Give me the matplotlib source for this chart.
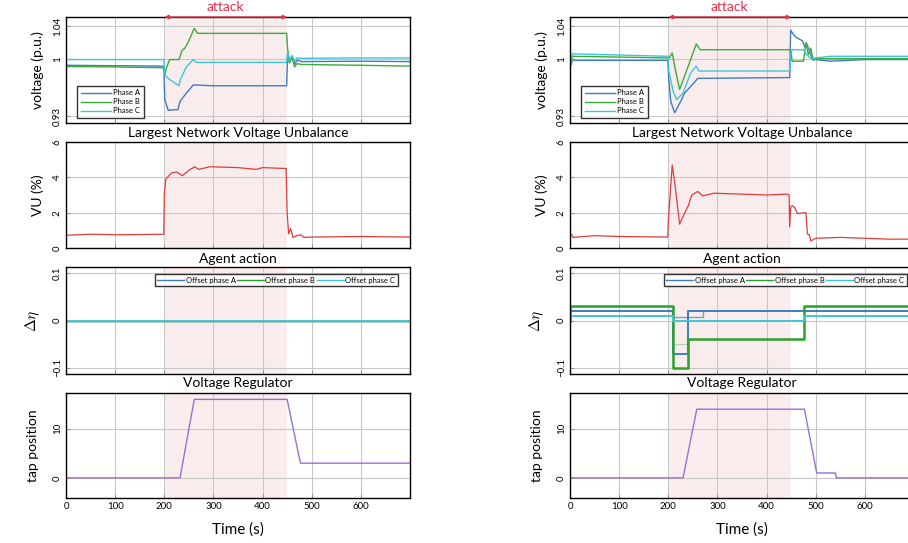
import matplotlib
matplotlib.use("Agg")
import matplotlib.pyplot as plt

plt.rcParams['font.family'] = ['Lato', 'DejaVu Sans']
plt.rcParams['mathtext.fontset'] = 'cm'

# ---------------- data: left case ----------------
vA_t_L = [0, 100, 199, 201, 208, 228, 232, 245, 259, 300, 449, 451, 455, 460, 465, 470, 480, 600, 700]
vA_L = [0.992, 0.9915, 0.991, 0.950, 0.937, 0.938, 0.948, 0.958, 0.968, 0.967, 0.967, 1.005, 0.995, 1.003, 0.993, 0.998, 0.9965, 0.997, 0.9965]
vB_t_L = [0, 100, 199, 201, 205, 211, 230, 236, 242, 250, 261, 268, 449, 451, 455, 460, 465, 470, 480, 600, 700]
vB_L = [0.9905, 0.990, 0.989, 0.980, 0.990, 0.999, 0.999, 1.010, 1.013, 1.022, 1.037, 1.031, 1.031, 1.012, 0.995, 1.002, 0.990, 0.994, 0.993, 0.992, 0.991]
vC_t_L = [0, 100, 199, 201, 210, 230, 233, 245, 259, 265, 449, 451, 455, 460, 465, 470, 480, 600, 700]
vC_L = [0.999, 0.999, 0.999, 0.980, 0.975, 0.967, 0.975, 0.990, 0.999, 0.9955, 0.9955, 1.008, 0.998, 1.004, 0.997, 1.001, 1.0005, 1.001, 1.001]

vu_t_L = [0, 50, 100, 150, 199, 200, 203, 215, 225, 237, 250, 262, 270, 293, 350, 387, 400, 448, 450, 453, 457, 462, 470, 477, 485, 500, 600, 700]
vu_L = [0.72, 0.78, 0.75, 0.76, 0.78, 3.0, 3.9, 4.25, 4.3, 4.1, 4.4, 4.6, 4.45, 4.6, 4.55, 4.45, 4.55, 4.5, 2.0, 0.8, 1.1, 0.6, 0.7, 0.75, 0.6, 0.62, 0.65, 0.62]

act_t_L = [0, 700]
actA_L = [0.0, 0.0]
actB_L = [0.0, 0.0]
actC_L = [0.0, 0.0]

tap_t_L = [0, 232, 261, 450, 477, 700]
tap_L = [0, 0, 16, 16, 3, 3]

# ---------------- data: right case ----------------
vA_t_R = [0, 2, 5, 10, 199, 201, 205, 213, 227, 233, 253, 260, 447, 449, 452, 460, 473, 478, 482, 493, 500, 530, 600, 700]
vA_R = [0.996, 0.992, 0.999, 0.998, 0.998, 0.975, 0.948, 0.934, 0.950, 0.958, 0.971, 0.976, 0.977, 1.035, 1.032, 1.026, 1.022, 1.014, 1.018, 1.0, 0.999, 0.997, 0.999, 0.999]
vB_t_R = [0, 2, 5, 199, 201, 208, 215, 223, 240, 257, 265, 447, 449, 452, 475, 478, 480, 485, 490, 495, 500, 550, 700]
vB_R = [1.001, 0.994, 1.003, 1.001, 1.0, 1.007, 0.985, 0.9625, 0.990, 1.018, 1.011, 1.011, 1.011, 0.997, 0.997, 1.01, 1.02, 1.005, 1.013, 0.998, 1.0, 1.0, 1.0]
vC_t_R = [0, 2, 5, 199, 201, 210, 217, 230, 245, 257, 262, 447, 449, 452, 475, 480, 490, 500, 530, 700]
vC_R = [1.003, 0.998, 1.006, 1.003, 0.985, 0.960, 0.950, 0.958, 0.982, 0.991, 0.985, 0.985, 1.005, 1.011, 1.011, 1.006, 1.0, 1.001, 1.003, 1.003]

vu_t_R = [0, 3, 6, 50, 100, 199, 200, 208, 214, 223, 232, 240, 248, 260, 270, 293, 350, 400, 440, 446, 447, 449, 452, 457, 463, 480, 483, 487, 490, 500, 550, 600, 650, 700]
vu_R = [0.8, 0.78, 0.6, 0.7, 0.65, 0.62, 1.5, 4.7, 3.5, 1.35, 1.9, 2.35, 3.0, 3.2, 2.95, 3.1, 3.05, 3.0, 3.05, 3.0, 1.2, 2.3, 2.4, 2.3, 1.95, 2.0, 0.8, 0.75, 0.4, 0.55, 0.6, 0.55, 0.5, 0.5]

actA_t_R = [0, 0, 210, 240, 700]
actA_R = [0.0, 0.02, -0.07, 0.02, 0.02]
actA2_t_R = [210, 270, 270]
actA2_R = [0.008, 0.008, 0.02]
actB_t_R = [0, 0, 210, 240, 477, 700]
actB_R = [0.0, 0.03, -0.1, -0.04, 0.03, 0.03]
actB2_t_R = [210, 240]
actB2_R = [-0.05, -0.05]
actC_t_R = [0, 0, 210, 477, 700]
actC_R = [0.0, 0.01, -0.002, 0.01, 0.01]

tap_t_R = [0, 230, 258, 477, 502, 540, 542, 700]
tap_R = [0, 0, 14, 14, 1, 1, 0, 0]

attack_start, attack_end = 200, 450
x_ticks = [0, 100, 200, 300, 400, 500, 600]
panel_titles = ['Largest Network Voltage Unbalance', 'Agent action', 'Voltage Regulator']

# ---------------- style ----------------
cA = '#3f7cc0'
cB = '#3caa3c'
cC = '#3ec6d6'
cB_act = '#2ca02c'
cVU = '#e03c3c'
cTap = '#9b6fd2'
shade = '#f9ecec'
red = '#e8304a'

W, H = 908, 543
fig = plt.figure(figsize=(W / 100, H / 100), dpi=100)

col_x = [66, 570]
ax_w = 344
rows = [(17, 123), (142, 248), (267, 374), (393, 498)]
title_y = [133, 259, 383]


def make_ax(cx, r):
    top, bot = rows[r]
    return fig.add_axes([cx / W, 1 - bot / H, ax_w / W, (bot - top) / H])


def style(ax, ylim, yticks, yticklabels, bottom=False):
    ax.set_xlim(0, 700)
    ax.set_ylim(*ylim)
    ax.axvspan(attack_start, attack_end, color=shade, zorder=0, lw=0)
    ax.set_xticks(x_ticks)
    ax.set_yticks(yticks)
    ax.set_yticklabels(yticklabels, rotation=90, va='center', fontsize=7)
    ax.grid(True, color='#c8c8c8', lw=0.8)
    ax.set_axisbelow(True)
    ax.tick_params(direction='in', length=3, width=0.6, color='#888888', labelsize=7, pad=3)
    for s in ax.spines.values():
        s.set_linewidth(1.0)
        s.set_color('black')
    if not bottom:
        ax.tick_params(axis='x', labelbottom=False)
    else:
        ax.set_xlabel('Time (s)', fontsize=11, labelpad=8)


cases = [
    dict(cx=col_x[0],
         v=[(vA_t_L, vA_L), (vB_t_L, vB_L), (vC_t_L, vC_L)],
         vu=(vu_t_L, vu_L),
         act=[(act_t_L, actA_L, cA, 1.0), (act_t_L, actB_L, cB_act, 1.0), (act_t_L, actC_L, cC, 1.2)],
         act_extra=[],
         leg_anchor=(0.975, 0.97),
         tap=(tap_t_L, tap_L)),
    dict(cx=col_x[1],
         v=[(vA_t_R, vA_R), (vB_t_R, vB_R), (vC_t_R, vC_R)],
         vu=(vu_t_R, vu_R),
         act=[(actA_t_R, actA_R, cA, 1.4), (actB_t_R, actB_R, cB_act, 1.8), (actC_t_R, actC_R, cC, 1.4)],
         act_extra=[(actA2_t_R, actA2_R, cA, 1.0), (actB2_t_R, actB2_R, '#8fd08f', 1.0)],
         leg_anchor=(0.99, 0.97),
         tap=(tap_t_R, tap_R)),
]

for case in cases:
    cx = case['cx']
    for ty, tt in zip(title_y, panel_titles):
        fig.text((cx + ax_w / 2) / W, 1 - ty / H, tt, ha='center', va='center', fontsize=10)

    # voltage
    ax1 = make_ax(cx, 0)
    style(ax1, (0.9215, 1.051), [0.93, 1.0, 1.04], ['0.93', '1', '1.04'])
    for (t, v), c, lab in zip(case['v'], [cA, cB, cC], ['Phase A', 'Phase B', 'Phase C']):
        ax1.plot(t, v, color=c, lw=1.0, label=lab)
    ax1.set_ylabel('voltage (p.u.)', fontsize=10, labelpad=6)
    leg = ax1.legend(loc='lower left', bbox_to_anchor=(0.02, 0.01), fontsize=5.5,
                     frameon=True, fancybox=False, handlelength=4, handletextpad=0.3,
                     borderpad=0.5, labelspacing=0.25)
    leg.get_frame().set_edgecolor('black')
    leg.get_frame().set_linewidth(1.0)
    ax1.annotate('', xy=(attack_start, 1.0), xytext=(attack_end, 1.0),
                 xycoords=('data', 'axes fraction'),
                 arrowprops=dict(arrowstyle='<|-|>', color=red, lw=1.0,
                                 mutation_scale=6, shrinkA=0, shrinkB=0))
    ax1.text((attack_start + attack_end) / 2, 1.035, 'attack', color=red,
             transform=ax1.get_xaxis_transform(), ha='center', va='bottom', fontsize=10)

    # VU
    ax2 = make_ax(cx, 1)
    style(ax2, (0, 6), [0, 2, 4, 6], ['0', '2', '4', '6'])
    ax2.plot(case['vu'][0], case['vu'][1], color=cVU, lw=0.9)
    ax2.set_ylabel('VU (%)', fontsize=10, labelpad=6)

    # agent action
    ax3 = make_ax(cx, 2)
    style(ax3, (-0.113, 0.113), [-0.1, 0, 0.1], ['\u22120.1', '0', '0.1'])
    for t, v, c, lw in case['act_extra']:
        ax3.plot(t, v, color=c, lw=lw, alpha=0.7)
    for (t, v, c, lw), lab in zip(case['act'], ['Offset phase A', 'Offset phase B', 'Offset phase C']):
        ax3.plot(t, v, color=c, lw=lw, label=lab, drawstyle='steps-post')
    ax3.set_ylabel(r'$\Delta\eta$', fontsize=11, labelpad=8)
    leg3 = ax3.legend(loc='upper right', bbox_to_anchor=case['leg_anchor'],
                      ncol=3, fontsize=5.5, frameon=True, fancybox=False,
                      handlelength=3.5, handletextpad=0.2, columnspacing=0.2, borderpad=0.35)
    leg3.get_frame().set_edgecolor('black')
    leg3.get_frame().set_linewidth(1.0)
    for h in leg3.get_lines():
        h.set_linewidth(1.0)

    # tap
    ax4 = make_ax(cx, 3)
    style(ax4, (-4.1, 17.3), [0, 10], ['0', '10'], bottom=True)
    ax4.plot(case['tap'][0], case['tap'][1], color=cTap, lw=1.0)
    ax4.set_ylabel('tap position', fontsize=10, labelpad=10)

fig.savefig('out.png', dpi=100)
